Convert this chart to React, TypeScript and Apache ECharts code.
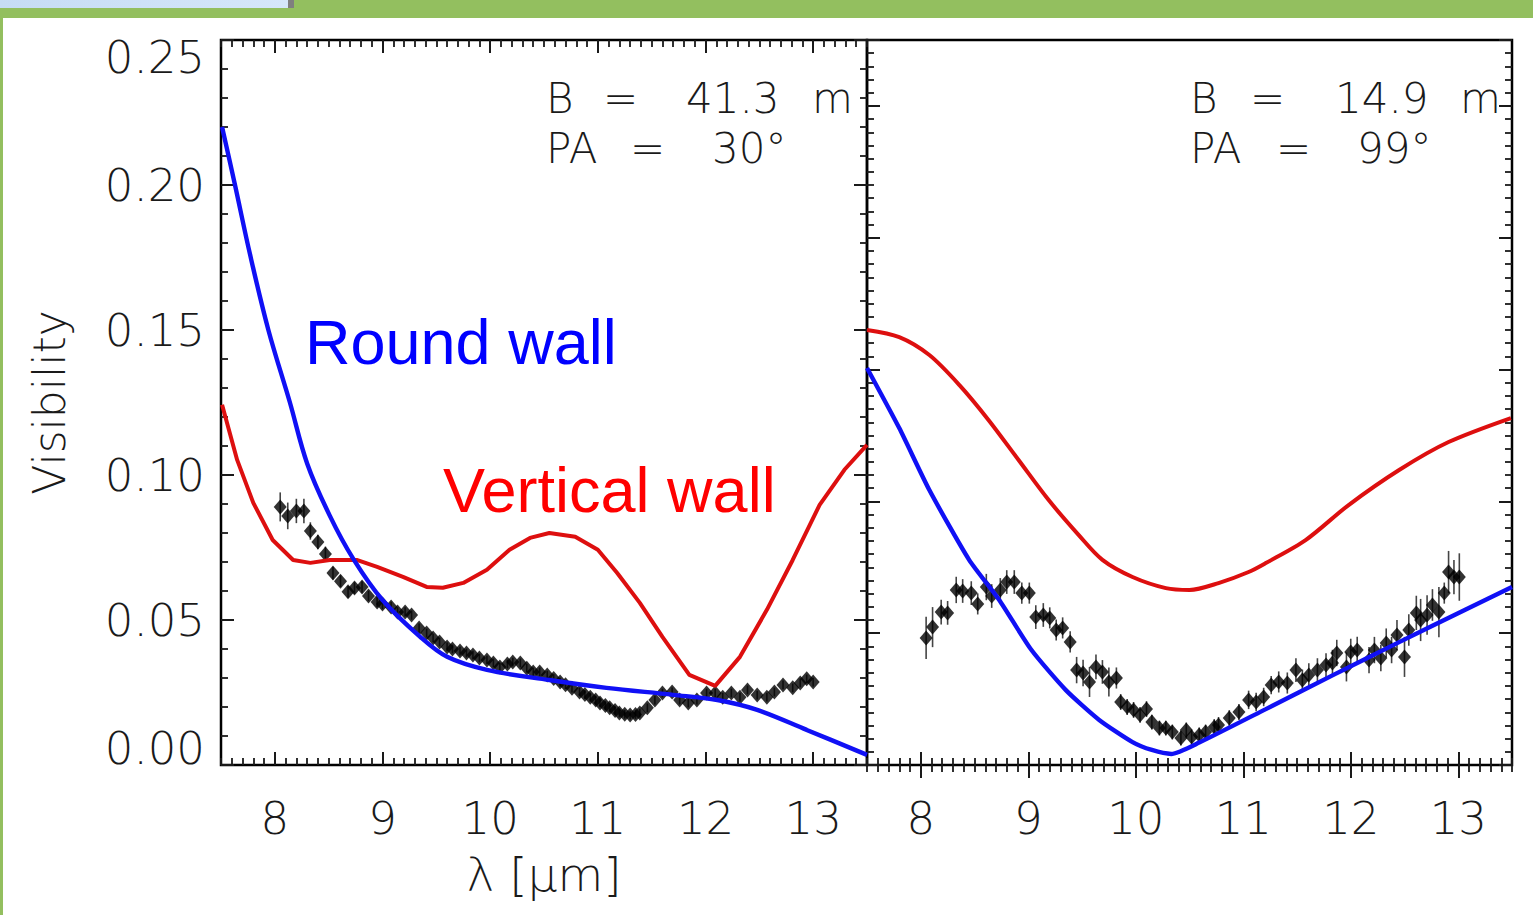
import { useEffect, useRef } from 'react';
import * as echarts from 'echarts';

// ---------- data ----------
const xTickValues = [8, 9, 10, 11, 12, 13];

// Left panel (B = 41.3 m, PA = 30°)
const leftBaseline = '41.3';
const leftAngle = '30°';
const leftRoundX = [7.51, 7.63, 7.77, 7.94, 8.14, 8.30, 8.51, 8.73, 9.00, 9.35, 9.60, 9.97, 10.55, 11.08, 11.70, 12.11, 12.48, 12.94, 13.50];
const leftRoundY = [0.220, 0.200, 0.176, 0.150, 0.125, 0.104, 0.086, 0.0710, 0.0569, 0.0442, 0.0373, 0.0328, 0.0293, 0.0266, 0.0242, 0.0224, 0.0190, 0.0121, 0.0035];

const leftWallX = [7.51, 7.65, 7.80, 7.98, 8.17, 8.33, 8.51, 8.76, 8.95, 9.19, 9.41, 9.56, 9.75, 9.97, 10.18, 10.37, 10.55, 10.79, 11.00, 11.18, 11.39, 11.60, 11.85, 12.09, 12.32, 12.57, 12.81, 13.06, 13.29, 13.50];
const leftWallY = [0.1242, 0.1052, 0.0904, 0.0776, 0.0707, 0.0697, 0.0707, 0.0707, 0.0683, 0.0649, 0.0614, 0.0611, 0.0628, 0.0673, 0.0742, 0.0783, 0.0800, 0.0787, 0.0742, 0.0662, 0.0559, 0.0442, 0.0311, 0.0273, 0.0373, 0.0535, 0.0707, 0.0897, 0.1018, 0.1104];

const leftObsX = [
  8.05, 8.12, 8.20, 8.27, 8.33, 8.40, 8.47, 8.54, 8.61, 8.68,
  8.74, 8.81, 8.87, 8.95, 9.00, 9.08, 9.14, 9.21, 9.27, 9.34,
  9.41, 9.47, 9.53, 9.60, 9.65, 9.72, 9.78, 9.84, 9.90, 9.97,
  10.03, 10.09, 10.16, 10.21, 10.28, 10.34, 10.40, 10.46, 10.53, 10.59,
  10.65, 10.70, 10.76, 10.83, 10.88, 10.93, 10.98, 11.02, 11.07, 11.11,
  11.16, 11.20, 11.25, 11.30, 11.35, 11.39, 11.46, 11.53, 11.60, 11.69,
  11.76, 11.84, 11.92, 12.01, 12.09, 12.16, 12.24, 12.32, 12.39, 12.48,
  12.57, 12.64, 12.72, 12.81, 12.88, 12.94, 13.00,
];
const leftObsY = [
  0.0890, 0.0859, 0.0876, 0.0876, 0.0807, 0.0769, 0.0728, 0.0662, 0.0634, 0.0597,
  0.0610, 0.0614, 0.0583, 0.0562, 0.0555, 0.0545, 0.0528, 0.0528, 0.0517, 0.0472,
  0.0455, 0.0438, 0.0424, 0.0407, 0.0400, 0.0393, 0.0386, 0.0379, 0.0369, 0.0362,
  0.0352, 0.0338, 0.0348, 0.0355, 0.0352, 0.0334, 0.0321, 0.0321, 0.0310, 0.0298,
  0.0286, 0.0277, 0.0265, 0.0252, 0.0243, 0.0234, 0.0224, 0.0214, 0.0205, 0.0197,
  0.0188, 0.0179, 0.0175, 0.0172, 0.0174, 0.0179, 0.0197, 0.0224, 0.0248, 0.0252,
  0.0224, 0.0214, 0.0224, 0.0248, 0.0248, 0.0234, 0.0248, 0.0234, 0.0259, 0.0241,
  0.0234, 0.0252, 0.0276, 0.0266, 0.0283, 0.0297, 0.0286,
];
const leftObsErr = [
  0.0050, 0.0046, 0.0042, 0.0042, 0.0030, 0.0025, 0.0025, 0.0022, 0.0020, 0.0020,
  0.0020, 0.0020, 0.0018, 0.0018, 0.0018, 0.0018, 0.0016, 0.0016, 0.0016, 0.0016,
  0.0015, 0.0015, 0.0015, 0.0015, 0.0015, 0.0015, 0.0015, 0.0015, 0.0015, 0.0015,
  0.0015, 0.0015, 0.0015, 0.0015, 0.0015, 0.0015, 0.0015, 0.0015, 0.0015, 0.0015,
  0.0015, 0.0015, 0.0015, 0.0015, 0.0015, 0.0015, 0.0015, 0.0015, 0.0015, 0.0015,
  0.0015, 0.0015, 0.0015, 0.0015, 0.0015, 0.0015, 0.0015, 0.0015, 0.0015, 0.0015,
  0.0015, 0.0015, 0.0015, 0.0015, 0.0015, 0.0015, 0.0015, 0.0015, 0.0015, 0.0015,
  0.0015, 0.0015, 0.0015, 0.0015, 0.0015, 0.0015, 0.0015,
];

// Right panel (B = 14.9 m, PA = 99°)
const rightBaseline = '14.9';
const rightAngle = '99°';
const rightRoundX = [7.50, 7.80, 8.08, 8.45, 8.73, 9.03, 9.35, 9.66, 9.97, 10.15, 10.33, 10.59, 11.21, 11.83, 12.45, 13.07, 13.50];
const rightRoundY = [0.1506, 0.1278, 0.1043, 0.0778, 0.0626, 0.0436, 0.0284, 0.0171, 0.0087, 0.0057, 0.0042, 0.0085, 0.0212, 0.0340, 0.0466, 0.0590, 0.0675];

const rightWallX = [7.50, 7.80, 8.08, 8.36, 8.63, 8.91, 9.19, 9.47, 9.69, 9.97, 10.28, 10.50, 10.77, 11.05, 11.21, 11.58, 11.98, 12.45, 12.91, 13.49];
const rightWallY = [0.1650, 0.1623, 0.1555, 0.1441, 0.1309, 0.1157, 0.1005, 0.0872, 0.0778, 0.0713, 0.0671, 0.0664, 0.0690, 0.0732, 0.0766, 0.0853, 0.0986, 0.1119, 0.1225, 0.1316];

const rightObsX = [
  8.05, 8.11, 8.19, 8.25, 8.33, 8.39, 8.47, 8.53, 8.61, 8.66,
  8.74, 8.80, 8.87, 8.94, 9.01, 9.07, 9.14, 9.20, 9.26, 9.32,
  9.39, 9.45, 9.51, 9.57, 9.63, 9.69, 9.75, 9.82, 9.86, 9.92,
  9.98, 10.04, 10.10, 10.15, 10.22, 10.28, 10.34, 10.42, 10.47, 10.52,
  10.59, 10.65, 10.73, 10.77, 10.87, 10.96, 11.05, 11.12, 11.19, 11.26,
  11.33, 11.41, 11.49, 11.55, 11.61, 11.69, 11.77, 11.83, 11.87, 11.96,
  12.00, 12.06, 12.17, 12.22, 12.28, 12.33, 12.38, 12.43, 12.50, 12.54,
  12.61, 12.65, 12.71, 12.76, 12.82, 12.87, 12.91, 12.96, 13.01,
];
const rightObsY = [
  0.0482, 0.0523, 0.0580, 0.0577, 0.0664, 0.0660, 0.0652, 0.0611, 0.0675, 0.0641,
  0.0664, 0.0694, 0.0694, 0.0652, 0.0652, 0.0561, 0.0569, 0.0558, 0.0512, 0.0520,
  0.0467, 0.0360, 0.0349, 0.0315, 0.0372, 0.0353, 0.0315, 0.0330, 0.0239, 0.0220,
  0.0209, 0.0190, 0.0212, 0.0163, 0.0140, 0.0140, 0.0125, 0.0102, 0.0133, 0.0106,
  0.0114, 0.0125, 0.0144, 0.0152, 0.0178, 0.0201, 0.0247, 0.0239, 0.0258, 0.0303,
  0.0315, 0.0311, 0.0360, 0.0322, 0.0341, 0.0360, 0.0379, 0.0387, 0.0425, 0.0372,
  0.0429, 0.0436, 0.0398, 0.0436, 0.0406, 0.0463, 0.0436, 0.0493, 0.0410, 0.0512,
  0.0577, 0.0550, 0.0569, 0.0607, 0.0580, 0.0652, 0.0732, 0.0713, 0.0713,
];
const rightObsErr = [
  0.0080, 0.0076, 0.0047, 0.0045, 0.0050, 0.0045, 0.0045, 0.0040, 0.0050, 0.0045,
  0.0045, 0.0045, 0.0045, 0.0040, 0.0040, 0.0045, 0.0045, 0.0040, 0.0040, 0.0040,
  0.0040, 0.0050, 0.0050, 0.0057, 0.0047, 0.0045, 0.0055, 0.0040, 0.0030, 0.0030,
  0.0030, 0.0030, 0.0030, 0.0028, 0.0028, 0.0028, 0.0028, 0.0028, 0.0028, 0.0028,
  0.0028, 0.0028, 0.0030, 0.0030, 0.0030, 0.0030, 0.0035, 0.0035, 0.0035, 0.0035,
  0.0040, 0.0040, 0.0045, 0.0040, 0.0045, 0.0045, 0.0045, 0.0050, 0.0050, 0.0055,
  0.0050, 0.0050, 0.0050, 0.0050, 0.0050, 0.0055, 0.0050, 0.0057, 0.0076, 0.0060,
  0.0065, 0.0080, 0.0075, 0.0060, 0.0095, 0.0040, 0.0080, 0.0065, 0.0090,
];

// ---------- styling ----------
const TICK_FONT = '"DejaVu Sans", "Liberation Sans", sans-serif';
const TICK_WEIGHT = 200;
const LABEL_FONT = '"Liberation Sans", Arial, sans-serif';
const INK = '#1a1a1a';
const GREEN = '#93bf5f';
const RED = '#dd0f0f';
const BLUE = '#1010f5';

const zip = (xs: number[], ys: number[]) => xs.map((x, i) => [x, ys[i]]);
const zip3 = (xs: number[], ys: number[], es: number[]) => xs.map((x, i) => [x, ys[i], es[i]]);

function xAxes(gridIndex: number, withLabels: boolean, withName: boolean) {
  const base = { type: 'value', gridIndex, min: 7.5, max: 13.5, splitLine: { show: false }, axisLine: { show: false } };
  const out: any[] = [];
  (['bottom', 'top'] as const).forEach((position) => {
    const labelled = withLabels && position === 'bottom';
    out.push({
      ...base,
      position,
      name: withName && position === 'bottom' ? 'λ [μm]' : '',
      nameLocation: 'middle',
      nameGap: 86,
      nameTextStyle: { fontFamily: TICK_FONT, fontWeight: TICK_WEIGHT, fontSize: 47, color: INK },
      axisTick: { show: true, inside: true, length: 13, customValues: xTickValues, lineStyle: { color: INK, width: 2 } },
      axisLabel: labelled
        ? { show: true, customValues: xTickValues, margin: 31, fontFamily: TICK_FONT, fontWeight: TICK_WEIGHT, fontSize: 45, color: INK }
        : { show: false },
    });
    out.push({
      ...base,
      position,
      interval: 0.1,
      axisTick: { show: true, inside: true, length: 7, lineStyle: { color: INK, width: 1.8 } },
      axisLabel: { show: false },
    });
  });
  return out;
}

// Two-line "B = … m / PA = …" annotation as one rich text block with fixed column widths.
function annotation(x: number, baseline: string, angle: string, cols1: number[], cols2: number[]) {
  const frag = { fontFamily: TICK_FONT, fontWeight: TICK_WEIGHT, fontSize: 42, fill: INK, lineHeight: 50, align: 'left' };
  return {
    type: 'text', x, y: 123.5, z: 10,
    style: {
      text: `{a|B}{b|=}{c|${baseline}}{d|m}\n{p|PA}{q|=}{r|${angle}}`,
      fontFamily: TICK_FONT, fontWeight: TICK_WEIGHT, fontSize: 42, fill: INK, lineHeight: 50,
      align: 'left', verticalAlign: 'middle',
      rich: {
        a: { ...frag, width: cols1[0] }, b: { ...frag, width: cols1[1] }, c: { ...frag, width: cols1[2] }, d: { ...frag },
        p: { ...frag, width: cols2[0] }, q: { ...frag, width: cols2[1] }, r: { ...frag },
      },
    },
  };
}

function App() {
  const ref = useRef<HTMLDivElement>(null);
  useEffect(() => {
    if (!ref.current) return;
    const chart = echarts.init(ref.current, null, { renderer: 'svg' });

    const yLeftCommon = {
      type: 'value', gridIndex: 0, min: 0, max: 0.25, interval: 0.05,
      splitLine: { show: false }, axisLine: { show: false },
      axisTick: { show: true, inside: true, length: 13, lineStyle: { color: INK, width: 2 } },
      minorTick: { show: true, splitNumber: 5, length: 7, lineStyle: { color: INK, width: 1.8 } },
    };
    const yRightMajor = {
      type: 'value', gridIndex: 1, min: 0, max: 0.275, interval: 0.05,
      splitLine: { show: false }, axisLine: { show: false },
      axisTick: { show: true, inside: true, length: 13, lineStyle: { color: INK, width: 2 } },
      axisLabel: { show: false },
    };
    const yRightMinor = {
      type: 'value', gridIndex: 1, min: 0, max: 0.275, interval: 0.005,
      splitLine: { show: false }, axisLine: { show: false },
      axisTick: { show: true, inside: true, length: 7, lineStyle: { color: INK, width: 1.8 } },
      axisLabel: { show: false },
    };

    const errorBars = (xAxisIndex: number, yAxisIndex: number, data: number[][]) => ({
      type: 'custom',
      xAxisIndex,
      yAxisIndex,
      data,
      encode: { x: 0, y: 1 },
      z: 2,
      renderItem: (_p: any, api: any) => {
        const x = api.value(0);
        const y = api.value(1);
        const e = api.value(2);
        const a = api.coord([x, y - e]);
        const b = api.coord([x, y + e]);
        return {
          type: 'line',
          shape: { x1: a[0], y1: a[1], x2: b[0], y2: b[1] },
          style: { stroke: '#444', lineWidth: 1.6 },
        };
      },
    });

    const dots = (xAxisIndex: number, yAxisIndex: number, data: number[][]) => ({
      type: 'scatter', xAxisIndex, yAxisIndex, data,
      symbol: 'diamond', symbolSize: [13, 15],
      itemStyle: { color: '#000' }, z: 3,
    });

    const line = (xAxisIndex: number, yAxisIndex: number, data: number[][], color: string, width: number, smooth: number | boolean) => ({
      type: 'line', xAxisIndex, yAxisIndex, data, smooth,
      showSymbol: false, symbol: 'none',
      lineStyle: { color, width }, z: 4,
    });

    const label = (text: string, x: number, y: number, fill: string) => ({
      type: 'text', x, y, z: 10,
      style: {
        text, fontFamily: LABEL_FONT, fontSize: 63, lineHeight: 64, fill,
        align: 'left', verticalAlign: 'middle',
      },
    });

    chart.setOption({
      animation: false,
      backgroundColor: '#ffffff',
      grid: [
        { left: 221, top: 40, width: 646, height: 725, show: true, borderColor: '#000', borderWidth: 2.5, backgroundColor: 'transparent' },
        { left: 867, top: 40, width: 645, height: 725, show: true, borderColor: '#000', borderWidth: 2.5, backgroundColor: 'transparent' },
      ],
      xAxis: [...xAxes(0, true, true), ...xAxes(1, true, false)],
      yAxis: [
        {
          ...yLeftCommon, position: 'left',
          name: 'Visibility', nameLocation: 'middle', nameGap: 150, nameRotate: 90,
          nameTextStyle: { fontFamily: TICK_FONT, fontWeight: TICK_WEIGHT, fontSize: 44, color: INK },
          axisLabel: {
            show: true, margin: 16, fontFamily: TICK_FONT, fontWeight: TICK_WEIGHT, fontSize: 45, lineHeight: 34, color: INK,
            formatter: (v: number) => v.toFixed(2),
            verticalAlignMinLabel: 'bottom', verticalAlignMaxLabel: 'top',
          },
        },
        { ...yLeftCommon, position: 'right', axisLabel: { show: false } },
        { ...yRightMajor, position: 'left' },
        { ...yRightMinor, position: 'left' },
        { ...yRightMajor, position: 'right' },
        { ...yRightMinor, position: 'right' },
      ],
      series: [
        errorBars(0, 0, zip3(leftObsX, leftObsY, leftObsErr)),
        dots(0, 0, zip(leftObsX, leftObsY)),
        line(0, 0, zip(leftWallX, leftWallY), RED, 4, false),
        line(0, 0, zip(leftRoundX, leftRoundY), BLUE, 4.4, 0.35),
        errorBars(4, 2, zip3(rightObsX, rightObsY, rightObsErr)),
        dots(4, 2, zip(rightObsX, rightObsY)),
        line(4, 2, zip(rightWallX, rightWallY), RED, 4, 0.3),
        line(4, 2, zip(rightRoundX, rightRoundY), BLUE, 4.4, 0.2),
      ],
      graphic: [
        { type: 'rect', shape: { x: 0, y: 0, width: 1533, height: 18 }, style: { fill: GREEN }, z: 1 },
        {
          type: 'rect', shape: { x: 0, y: 0, width: 288, height: 8 }, z: 2,
          style: { fill: new echarts.graphic.LinearGradient(0, 0, 1, 0, [{ offset: 0, color: '#c6dcf4' }, { offset: 1, color: '#d6e7fa' }]) },
        },
        { type: 'rect', shape: { x: 288, y: 0, width: 6, height: 8 }, style: { fill: '#7f7f7f' }, z: 2 },
        { type: 'rect', shape: { x: 0, y: 18, width: 3, height: 897 }, style: { fill: GREEN }, z: 1 },
        annotation(546, leftBaseline, leftAngle, [57, 83, 126], [84, 82]),
        annotation(1190, rightBaseline, rightAngle, [60, 85, 125], [86, 81]),
        label('Round wall', 305, 342, '#0000ff'),
        label('Vertical wall', 443, 490, '#ff0000'),
      ],
    });
    return () => chart.dispose();
  }, []);
  return <div ref={ref} style={{ position: 'fixed', left: 0, top: 0, width: 1533, height: 915, background: '#fff' }} />;
}

export default App;
